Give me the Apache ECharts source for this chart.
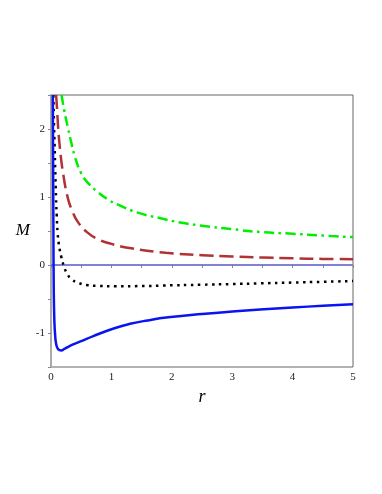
<!DOCTYPE html>
<html>
<head>
<meta charset="utf-8">
<script src="https://cdn.jsdelivr.net/npm/echarts@6/dist/echarts.min.js"></script>
<style>
  html, body { margin: 0; padding: 0; background: #fff; }
  #chart { width: 382px; height: 494px; }
</style>
</head>
<body>
<div id="chart"></div>
<script>
// values, r -> M
var blueR  = [0.03, 0.035, 0.04, 0.045, 0.055, 0.07, 0.09, 0.12, 0.17, 0.22, 0.3, 0.4, 0.5, 0.7, 1.05, 1.31, 1.6, 1.94, 2.5, 3, 3.46, 4, 4.5, 5];
var blueM  = [2.5, 1.5, 0.5, -0.3, -0.8, -1.05, -1.18, -1.24, -1.256, -1.235, -1.195, -1.155, -1.12, -1.045, -0.93, -0.865, -0.815, -0.77, -0.72, -0.685, -0.655, -0.625, -0.6, -0.576];

var blackR = [0.04, 0.05, 0.06, 0.07, 0.083, 0.095, 0.11, 0.13, 0.15, 0.17, 0.215, 0.28, 0.35, 0.447, 0.58, 0.8, 1.05, 1.5, 1.85, 2.5, 3, 3.46, 4, 4.5, 5];
var blackM = [2.5, 2.05, 1.75, 1.4, 1.0, 0.72, 0.47, 0.3, 0.2, 0.12, -0.02, -0.148, -0.215, -0.26, -0.293, -0.308, -0.312, -0.31, -0.302, -0.29, -0.28, -0.27, -0.258, -0.247, -0.236];

var brownR = [0.085, 0.1, 0.12, 0.15, 0.2, 0.28, 0.35, 0.447, 0.6, 0.78, 1.0, 1.33, 1.9, 2.5, 3, 3.5, 4, 4.5, 5];
var brownM = [2.5, 2.3, 2.0, 1.7, 1.35, 0.98, 0.8, 0.63, 0.48, 0.38, 0.31, 0.245, 0.18, 0.145, 0.125, 0.11, 0.098, 0.09, 0.084];

var greenR = [0.175, 0.22, 0.28, 0.32, 0.4, 0.5, 0.62, 0.78, 0.95, 1.1, 1.44, 1.8, 2.14, 2.5, 3, 3.46, 4, 4.5, 5];
var greenM = [2.5, 2.27, 2.02, 1.86, 1.58, 1.35, 1.2, 1.07, 0.96, 0.89, 0.77, 0.69, 0.625, 0.578, 0.527, 0.485, 0.46, 0.433, 0.41];

var zeroR = [0, 5];
var zeroM = [0, 0];

function pairs(xs, ys) {
    return xs.map(function (x, i) { return [x, ys[i]]; });
}

var serif = '"Liberation Serif", "DejaVu Serif", serif';
var chart = echarts.init(document.getElementById('chart'));

var option = {
    animation: false,
    backgroundColor: '#fff',
    grid: {
        left: 51, top: 95, width: 302, height: 272,
        show: true, borderColor: '#666', borderWidth: 1
    },
    xAxis: {
        type: 'value', min: 0, max: 5, interval: 0.5,
        name: 'r', nameLocation: 'middle', nameGap: 17,
        nameTextStyle: { fontFamily: serif, fontStyle: 'italic', fontSize: 18, color: '#000' },
        axisLine: { lineStyle: { color: '#aaa', width: 2 } },
        axisTick: { show: true, length: 3, lineStyle: { color: '#888' } },
        splitLine: { show: false },
        axisLabel: {
            fontFamily: serif, fontSize: 11, color: '#222', margin: 5,
            formatter: function (v) { return v % 1 === 0 ? String(v) : ''; }
        }
    },
    yAxis: {
        type: 'value', min: -1.5, max: 2.5, interval: 0.5,
        name: 'M', nameLocation: 'middle', nameGap: 19, nameRotate: 0,
        nameTextStyle: { fontFamily: serif, fontStyle: 'italic', fontSize: 17, color: '#000', padding: [4, 0, 0, 0] },
        axisLine: { lineStyle: { color: '#aaa', width: 2 } },
        axisTick: { show: true, length: 3, lineStyle: { color: '#888' } },
        splitLine: { show: false },
        axisLabel: {
            fontFamily: serif, fontSize: 11, color: '#222', margin: 6,
            formatter: function (v) { return v % 1 === 0 ? String(v) : ''; }
        }
    },
    series: [
        {
            type: 'line', data: pairs(zeroR, zeroM), showSymbol: false, silent: true,
            lineStyle: { color: '#5a5aff', width: 1 }
        },
        {
            type: 'line', data: pairs(greenR, greenM), showSymbol: false, smooth: 0.5,
            lineStyle: { color: '#00ee00', width: 2.5, type: [10, 4.5, 2.5, 4.5], cap: 'butt' }
        },
        {
            type: 'line', data: pairs(brownR, brownM), showSymbol: false, smooth: 0.5,
            lineStyle: { color: '#b03232', width: 2.5, type: [14, 6], cap: 'butt' }
        },
        {
            type: 'line', data: pairs(blackR, blackM), showSymbol: false, smooth: 0.5,
            lineStyle: { color: '#000', width: 2.5, type: [2.5, 4.5], cap: 'butt' }
        },
        {
            type: 'line', data: pairs(blueR, blueM), showSymbol: false, smooth: 0.5,
            lineStyle: { color: '#0a14f0', width: 2.5 }
        }
    ]
};

chart.setOption(option);
</script>
</body>
</html>
